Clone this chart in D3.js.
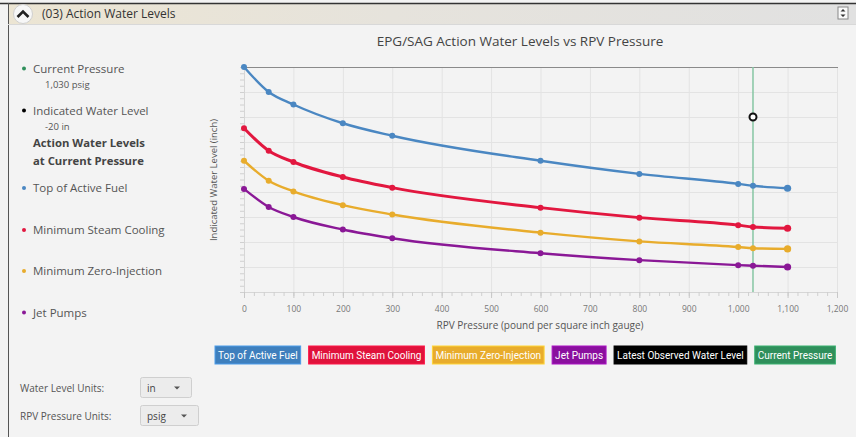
<!DOCTYPE html>
<html><head><meta charset="utf-8">
<script src="https://cdn.jsdelivr.net/npm/d3@7"></script>
<style>
html,body{margin:0;padding:0;background:#f3f3f3;}
svg{display:block;font-family:"Open Sans","Noto Sans",sans-serif;}
</style></head>
<body>
<svg id="chart" width="856" height="437"></svg>
<script>
// ---- data ----
const pressures = [0, 50, 100, 200, 300, 600, 800, 1000, 1030, 1100];
const topOfActiveFuel      = [20, 0, -10, -25, -35, -55, -65.5, -73.5, -75, -77];
const minSteamCooling      = [-29, -47, -56, -68, -76.5, -92.5, -100.5, -106.5, -108, -109];
const minZeroInjection     = [-55, -71, -79.5, -90.5, -98, -112.5, -119.5, -124, -125, -125.5];
const jetPumps             = [-77.5, -92, -100, -110, -117, -129, -134.5, -138.5, -139, -140];
const seriesNames  = ["Top of Active Fuel", "Minimum Steam Cooling", "Minimum Zero-Injection", "Jet Pumps"];
const seriesColors = ["#4a87c2", "#e2173f", "#e8ac2c", "#8a1896"];
const currentPressure = 1030;
const indicatedLevel = -20;
const xTicks = [0,100,200,300,400,500,600,700,800,900,1000,1100,1200];
const yGrid = [20,0,-20,-40,-60,-80,-100,-120,-140,-160];
const legendLabels = ["Top of Active Fuel","Minimum Steam Cooling","Minimum Zero-Injection","Jet Pumps","Latest Observed Water Level","Current Pressure"];
const legendColors = ["#3e7fbd","#e0123b","#e8ac2c","#8a0f9e","#000000","#2f8f5b"];

const svg = d3.select("#chart");

// ---- panel chrome ----
const defs = svg.append("defs");
const hg = defs.append("linearGradient").attr("id","hdr").attr("x1","0").attr("x2","1").attr("y1","0").attr("y2","0");
hg.append("stop").attr("offset","0").attr("stop-color","#ece5d3");
hg.append("stop").attr("offset","0.45").attr("stop-color","#e6e3dc");
hg.append("stop").attr("offset","1").attr("stop-color","#e1e1e1");
svg.append("rect").attr("x",0).attr("y",0).attr("width",856).attr("height",437).attr("fill","#f3f3f3");
svg.append("rect").attr("x",8).attr("y",4).attr("width",848).attr("height",20).attr("fill","url(#hdr)");
svg.append("line").attr("x1",0).attr("x2",856).attr("y1",3.5).attr("y2",3.5).attr("stroke","#333").attr("stroke-width",1.5);
svg.append("line").attr("x1",8.5).attr("x2",8.5).attr("y1",3).attr("y2",437).attr("stroke","#555").attr("stroke-width",1);
svg.append("line").attr("x1",8).attr("x2",856).attr("y1",24.5).attr("y2",24.5).attr("stroke","#d8d8d8");
// chevron button
svg.append("circle").attr("cx",23).attr("cy",14).attr("r",9.5).attr("fill","#f7f7f7").attr("stroke","#d0d0d0");
svg.append("path").attr("d","M17.5,17 L23,11.5 L28.5,17").attr("fill","none").attr("stroke","#222").attr("stroke-width",2.6);
svg.append("text").attr("x",42).attr("y",18).attr("font-size",12).attr("fill","#333").text("(03) Action Water Levels");
// right icon
const ic = svg.append("g").attr("transform","translate(843,13)");
ic.append("rect").attr("x",-5).attr("y",-6).attr("width",10).attr("height",12).attr("fill","#fafafa").attr("stroke","#888");
ic.append("path").attr("d","M-2.5,-1.5 L0,-4 L2.5,-1.5 Z M-2.5,1.5 L0,4 L2.5,1.5 Z").attr("fill","#333");

// ---- left info legend ----
const info = svg.append("g").attr("font-size",11.5).attr("fill","#555");
function infoItem(y, color, label){
  info.append("circle").attr("cx",24).attr("cy",y).attr("r",2).attr("fill",color);
  info.append("text").attr("x",33).attr("y",y+4).text(label);
}
infoItem(68.5, "#2f8f5b", "Current Pressure");
info.append("text").attr("x",45).attr("y",88).attr("font-size",9.5).text(d3.format(",")(currentPressure) + " psig");
infoItem(110.5, "#000", "Indicated Water Level");
info.append("text").attr("x",45).attr("y",130).attr("font-size",9.5).text(indicatedLevel + " in");
info.append("text").attr("x",33).attr("y",146.5).attr("font-weight","bold").attr("font-size",11.3).attr("fill","#444").text("Action Water Levels");
info.append("text").attr("x",33).attr("y",164.5).attr("font-weight","bold").attr("font-size",11.3).attr("fill","#444").text("at Current Pressure");
const infoYs = [188, 230, 271, 312.5];
seriesNames.forEach((n,i)=>infoItem(infoYs[i], seriesColors[i], n));

// ---- chart ----
const m = {left:244, right:837, top:67, bottom:292};
const x = d3.scaleLinear().domain([0,1200]).range([m.left, m.right]);
const y = d3.scaleLinear().domain([-160,20]).range([m.bottom, m.top]);

svg.append("text").attr("x",520).attr("y",46).attr("text-anchor","middle").attr("font-size",13.5).attr("fill","#444")
  .text("EPG/SAG Action Water Levels vs RPV Pressure");

// grid
const grid = svg.append("g");
grid.selectAll(".vg").data(xTicks).join("line")
  .attr("x1",d=>x(d)+0.5).attr("x2",d=>x(d)+0.5).attr("y1",m.top).attr("y2",m.bottom)
  .attr("stroke","#e3e3e3");
grid.selectAll(".hg").data(yGrid).join("line")
  .attr("x1",m.left).attr("x2",m.right).attr("y1",d=>Math.round(y(d))+0.5).attr("y2",d=>Math.round(y(d))+0.5)
  .attr("stroke","#e3e3e3");
svg.append("line").attr("x1",m.left).attr("x2",m.right+1).attr("y1",m.top+0.5).attr("y2",m.top+0.5).attr("stroke","#8a8a8a");

// y axis ticks only (no labels)
const yAxis = svg.append("g").attr("transform",`translate(${m.left},0)`)
  .call(d3.axisLeft(y).ticks(45).tickSize(4).tickFormat(""));
yAxis.select(".domain").attr("stroke","#d6d6d6");
yAxis.selectAll(".tick line").attr("stroke","#d0d0d0");

// x axis
const xMinor = svg.append("g").attr("transform",`translate(0,${m.bottom})`)
  .call(d3.axisBottom(x).tickValues(d3.range(0,1201,20)).tickSize(4).tickFormat(""));
xMinor.select(".domain").attr("stroke","#d6d6d6");
xMinor.selectAll(".tick line").attr("stroke","#cfcfcf");
const xAxis = svg.append("g").attr("transform",`translate(0,${m.bottom})`)
  .call(d3.axisBottom(x).tickValues(xTicks).tickSize(6).tickPadding(8).tickFormat(d3.format(",")));
xAxis.select(".domain").remove();
xAxis.selectAll(".tick line").attr("stroke","#c8c8c8");
xAxis.selectAll("text").attr("font-size",8.5).attr("fill","#777").attr("font-family","'Open Sans',sans-serif");

svg.append("text").attr("x",540).attr("y",329).attr("text-anchor","middle").attr("font-size",10).attr("fill","#555")
  .text("RPV Pressure (pound per square inch gauge)");
svg.append("text").attr("transform","translate(217,180) rotate(-90)").attr("text-anchor","middle").attr("font-size",9.5).attr("fill","#555")
  .text("Indicated Water Level (inch)");

// current pressure line
svg.append("line").attr("x1",x(currentPressure)).attr("x2",x(currentPressure)).attr("y1",m.top).attr("y2",m.bottom)
  .attr("stroke","#86c6a3").attr("stroke-width",1.5);

// series
const allSeries = [topOfActiveFuel, minSteamCooling, minZeroInjection, jetPumps];
const line = d3.line().x((d,i)=>x(pressures[i])).y(d=>y(d)).curve(d3.curveMonotoneX);
allSeries.forEach((vals,si)=>{
  const g = svg.append("g");
  g.append("path").datum(vals).attr("d",line).attr("fill","none")
    .attr("stroke",seriesColors[si]).attr("stroke-width", si===1 ? 3 : 2.4).attr("stroke-linejoin","round");
  g.selectAll("circle").data(vals).join("circle")
    .attr("cx",(d,i)=>x(pressures[i])).attr("cy",d=>y(d)).attr("r",(d,i)=> i===pressures.length-1 ? 3.6 : 3)
    .attr("fill",seriesColors[si]);
});

// observed water level marker
svg.append("circle").attr("cx",x(currentPressure)).attr("cy",y(indicatedLevel)).attr("r",3.5)
  .attr("fill","#fff").attr("stroke","#111").attr("stroke-width",2);

// legend buttons
const lg = svg.append("g").attr("font-size",10).attr("font-family","Roboto,'Liberation Sans',sans-serif");
let lx = 215;
legendLabels.forEach((lab,i)=>{
  const t = lg.append("text").attr("y",358.5).attr("fill","#fff").text(lab);
  const w = t.node().getComputedTextLength() + 6;
  lg.insert("rect","text").attr("x",lx).attr("y",346).attr("width",w).attr("height",18).attr("fill",legendColors[i]).attr("stroke", d3.color(legendColors[i]).brighter(0.6));
  t.attr("x",lx+3);
  lx += w + 8;
});
lg.selectAll("text").raise();

// bottom controls
const ctl = svg.append("g").attr("font-size",10).attr("fill","#555");
function dropdown(yc, label, val, w){
  ctl.append("text").attr("x",20).attr("y",yc+3.5).text(label);
  ctl.append("rect").attr("x",140.5).attr("y",yc-10.5).attr("width",w).attr("height",20).attr("rx",2)
    .attr("fill","#ececec").attr("stroke","#cfcfcf");
  ctl.append("text").attr("x",147).attr("y",yc+3.5).attr("fill","#444").text(val);
  ctl.append("path").attr("d",`M${140+w-17},${yc-1.5} l3,3 l3,-3 z`).attr("fill","#555");
}
dropdown(388, "Water Level Units:", "in", 51);
dropdown(416, "RPV Pressure Units:", "psig", 58);
</script>
</body></html>
